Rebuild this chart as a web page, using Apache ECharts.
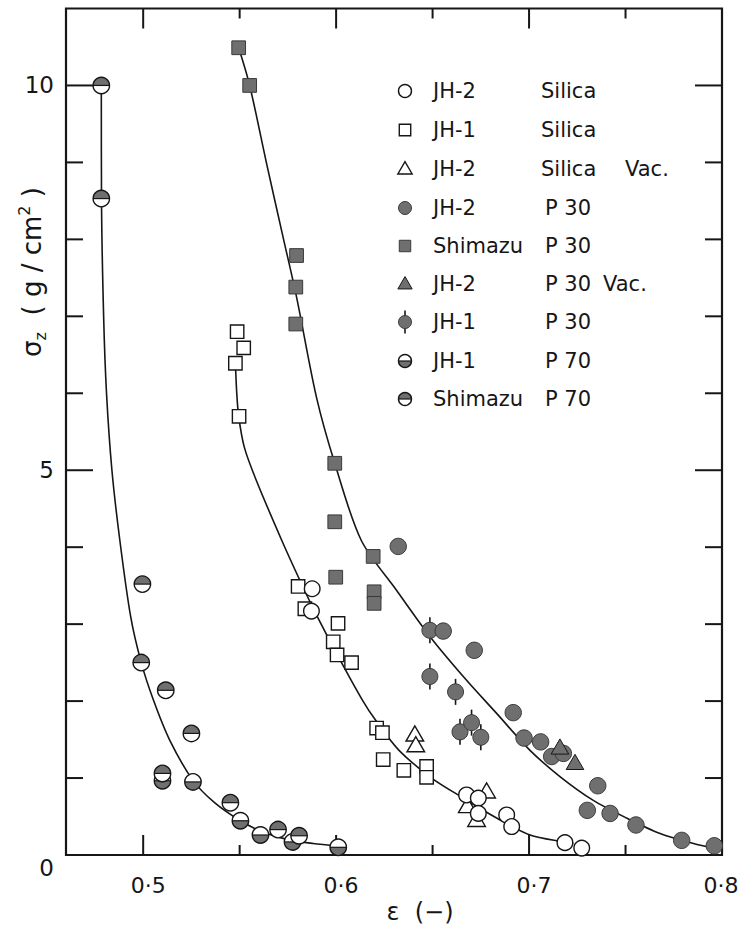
<!DOCTYPE html>
<html>
<head>
<meta charset="utf-8">
<script src="https://cdn.jsdelivr.net/npm/echarts/dist/echarts.min.js"></script>
<style>
  html, body { margin: 0; padding: 0; background: #ffffff; }
  #chart { width: 743px; height: 928px; }
</style>
</head>
<body>
<div id="chart"></div>
<script>
// Axis ranges and tick definitions
const xMin = 0.46, xMax = 0.8, yMin = 0, yMax = 11;
const xMajorTicks = [0.5, 0.6, 0.7, 0.8];
const xMinorTicks = [0.55, 0.65, 0.75];
const xTickLabels = ['0·5', '0·6', '0·7', '0·8'];
const yMajorTicks = [0, 5, 10];
const yMinorTicks = [1, 2, 3, 4, 6, 7, 8, 9];
const yTickLabels = ['0', '5', '10'];

// Measured points: [porosity ε, stress σz (g/cm²)]
const jh2Silica = [[0.5876,3.46],[0.5872,3.17],[0.6676,0.78],[0.6737,0.74],[0.6737,0.54],
  [0.6884,0.52],[0.691,0.37],[0.7186,0.16],[0.7273,0.09]];
const jh1Silica = [[0.5487,6.80],[0.5521,6.59],[0.5478,6.39],[0.5497,5.70],[0.5803,3.49],
  [0.5838,3.20],[0.601,3.01],[0.5985,2.77],[0.6005,2.60],[0.608,2.50],[0.621,1.65],
  [0.624,1.59],[0.6244,1.24],[0.6351,1.10],[0.6469,1.15],[0.6469,1.01]];
const jh2SilicaVac = [[0.6408,1.56],[0.6413,1.42],[0.678,0.82],[0.668,0.63],[0.6728,0.45]];
const jh2P30 = [[0.6322,4.01],[0.6555,2.91],[0.6716,2.66],[0.6918,1.85],[0.6974,1.52],
  [0.706,1.47],[0.7117,1.28],[0.7178,1.32],[0.7356,0.90],[0.7302,0.58],[0.742,0.54],
  [0.7554,0.39],[0.7791,0.19],[0.796,0.12]];
const shimazuP30 = [[0.5495,10.49],[0.5552,10.0],[0.5795,7.79],[0.5791,7.38],[0.5791,6.90],
  [0.5993,5.09],[0.5993,4.33],[0.5998,3.61],[0.6192,3.88],[0.6197,3.42],[0.6197,3.27]];
const jh2P30Vac = [[0.716,1.39],[0.7238,1.19]];
const jh1P30 = [[0.6486,2.92],[0.6486,2.32],[0.6619,2.12],[0.6642,1.60],[0.6702,1.72],[0.675,1.53]];
const jh1P70 = [[0.510,0.965],[0.5258,0.95],[0.5504,0.445],[0.5608,0.26],[0.5774,0.17],[0.6011,0.10]];
const shimazuP70 = [[0.4783,10.0],[0.4783,8.53],[0.4996,3.52],[0.499,2.50],[0.5117,2.14],
  [0.525,1.58],[0.510,1.06],[0.5452,0.68],[0.5699,0.33],[0.5808,0.25]];

// Fitted curves traced through each material group
const curveP70 = [[0.4783,10.0],[0.4784,8.53],[0.4795,7.0],[0.481,6.0],[0.4838,5.0],[0.4879,4.09],
  [0.4935,3.1],[0.499,2.5],[0.5055,2.0],[0.5138,1.49],[0.5258,0.97],[0.537,0.68],[0.5504,0.445],
  [0.562,0.3],[0.575,0.2],[0.588,0.15],[0.601,0.12]];
const curveSilica = [[0.5478,6.39],[0.5485,6.0],[0.5495,5.70],[0.5524,5.30],[0.5586,4.87],
  [0.5718,4.09],[0.5812,3.57],[0.5888,3.17],[0.6012,2.575],[0.6137,2.01],[0.6205,1.75],
  [0.6326,1.36],[0.6495,1.0],[0.6659,0.74],[0.6832,0.48],[0.7005,0.26],[0.7178,0.17],[0.723,0.15]];
const curveP30 = [[0.5495,10.49],[0.5552,10.0],[0.564,8.98],[0.5725,8.03],[0.5795,7.25],
  [0.5898,5.95],[0.5993,5.09],[0.613,4.09],[0.6313,3.44],[0.6486,2.84],[0.6659,2.32],
  [0.6832,1.84],[0.7005,1.36],[0.716,1.02],[0.7333,0.71],[0.7506,0.48],[0.7679,0.28],
  [0.7852,0.15],[0.799,0.07]];

const INK = '#161616';
const GREY = '#6f6f6f';
const FONT = '"DejaVu Sans", "Noto Sans", sans-serif';

// Half-disc outline as polygon points, from angle a0 through a half turn
function halfDisc(x, y, r, a0) {
  const pts = [];
  for (let i = 0; i <= 24; i++) {
    const a = a0 + Math.PI * i / 24;
    pts.push([x + r * Math.cos(a), y + r * Math.sin(a)]);
  }
  return pts;
}

// Builds the graphic parts of one marker centred on (x, y)
function markerParts(kind, x, y, r) {
  const edge = { stroke: INK, lineWidth: 1.4 };
  const s = r * 0.88;
  switch (kind) {
    case 'circleOpen':
      return [{ type: 'circle', shape: { cx: x, cy: y, r }, style: { fill: '#fff', ...edge } }];
    case 'squareOpen':
      return [{ type: 'rect', shape: { x: x - s, y: y - s, width: 2 * s, height: 2 * s }, style: { fill: '#fff', ...edge } }];
    case 'triOpen':
    case 'triFill': {
      const w = r * 2.2, h = r * 1.9;
      return [{ type: 'polygon', shape: { points: [[x, y - h * 0.6], [x - w / 2, y + h * 0.4], [x + w / 2, y + h * 0.4]] },
        style: { fill: kind === 'triOpen' ? '#fff' : GREY, stroke: INK, lineWidth: kind === 'triOpen' ? 1.4 : 1 } }];
    }
    case 'circleFill':
      return [{ type: 'circle', shape: { cx: x, cy: y, r }, style: { fill: GREY, stroke: '#3a3a3a', lineWidth: 1 } }];
    case 'squareFill':
      return [{ type: 'rect', shape: { x: x - s, y: y - s, width: 2 * s, height: 2 * s }, style: { fill: GREY, stroke: '#3a3a3a', lineWidth: 1 } }];
    case 'circleBar':
      return [
        { type: 'line', shape: { x1: x, y1: y - r - 5, x2: x, y2: y + r + 5 }, style: { stroke: INK, lineWidth: 1.6 } },
        { type: 'circle', shape: { cx: x, cy: y, r }, style: { fill: GREY, stroke: '#3a3a3a', lineWidth: 1 } }
      ];
    case 'halfBottom':
    case 'halfTop': {
      // lower half: angles 0..π (screen y grows downward); upper half: π..2π
      const a0 = kind === 'halfBottom' ? 0 : Math.PI;
      return [
        { type: 'circle', shape: { cx: x, cy: y, r }, style: { fill: '#fff' } },
        { type: 'polygon', shape: { points: halfDisc(x, y, r, a0) }, style: { fill: GREY } },
        { type: 'line', shape: { x1: x - r, y1: y, x2: x + r, y2: y }, style: { stroke: INK, lineWidth: 1.2 } },
        { type: 'circle', shape: { cx: x, cy: y, r }, style: { fill: 'none', ...edge } }
      ];
    }
  }
  return [];
}

function pointSeries(name, data, kind, r) {
  return {
    type: 'custom', name, data, z: 5, clip: false,
    renderItem(params, api) {
      const p = api.coord([api.value(0), api.value(1)]);
      return { type: 'group', children: markerParts(kind, p[0], p[1], r) };
    }
  };
}

function curveSeries(data) {
  return {
    type: 'line', data, showSymbol: false, smooth: 0.3, z: 3, silent: true,
    lineStyle: { color: INK, width: 1.6 }
  };
}

// Tick marks drawn inward on all four sides of the frame
function xTickSeries(values, len) {
  return {
    type: 'custom', silent: true, z: 2, clip: false,
    data: values.map(v => [v, yMin]),
    renderItem(params, api) {
      const v = api.value(0);
      const b = api.coord([v, yMin]), t = api.coord([v, yMax]);
      const st = { stroke: INK, lineWidth: 2 };
      return { type: 'group', children: [
        { type: 'line', shape: { x1: b[0], y1: b[1], x2: b[0], y2: b[1] - len }, style: st },
        { type: 'line', shape: { x1: t[0], y1: t[1], x2: t[0], y2: t[1] + len }, style: st }
      ] };
    }
  };
}
function yTickSeries(values, len) {
  return {
    type: 'custom', silent: true, z: 2, clip: false,
    data: values.map(v => [xMin, v]),
    renderItem(params, api) {
      const v = api.value(1);
      const l = api.coord([xMin, v]), rt = api.coord([xMax, v]);
      const st = { stroke: INK, lineWidth: 2 };
      return { type: 'group', children: [
        { type: 'line', shape: { x1: l[0], y1: l[1], x2: l[0] + len, y2: l[1] }, style: st },
        { type: 'line', shape: { x1: rt[0], y1: rt[1], x2: rt[0] - len, y2: rt[1] }, style: st }
      ] };
    }
  };
}
function xLabelSeries() {
  return {
    type: 'custom', silent: true, z: 2, clip: false,
    data: xMajorTicks.map(v => [v, yMin]),
    renderItem(params, api) {
      const p = api.coord([api.value(0), yMin]);
      const last = params.dataIndex === xMajorTicks.length - 1;
      return { type: 'text', x: last ? p[0] - 1 : p[0] + 5, y: p[1] + 30,
        style: { text: xTickLabels[params.dataIndex], font: '22px ' + FONT, fill: INK, align: 'center', verticalAlign: 'middle' } };
    }
  };
}
function yLabelSeries() {
  return {
    type: 'custom', silent: true, z: 2, clip: false,
    data: yMajorTicks.map(v => [xMin, v]),
    renderItem(params, api) {
      const v = api.value(1);
      const p = api.coord([xMin, v]);
      return { type: 'text', x: p[0] - 12, y: p[1] + (v === 0 ? 13 : 0),
        style: { text: yTickLabels[params.dataIndex], font: '23px ' + FONT, fill: INK, align: 'right', verticalAlign: 'middle' } };
    }
  };
}

// Legend entries: marker kind, name column, material column, extra note
const legendRows = [
  ['circleOpen', 'JH-2', 'Silica', ''],
  ['squareOpen', 'JH-1', 'Silica', ''],
  ['triOpen', 'JH-2', 'Silica', 'Vac.'],
  ['circleFill', 'JH-2', 'P 30', ''],
  ['squareFill', 'Shimazu', 'P 30', ''],
  ['triFill', 'JH-2', 'P 30', 'Vac.'],
  ['circleBar', 'JH-1', 'P 30', ''],
  ['halfBottom', 'JH-1', 'P 70', ''],
  ['halfTop', 'Shimazu', 'P 70', '']
];
const legendY = [91, 130, 169, 208, 246, 284, 322, 361, 399];
const legendGraphics = [];
legendRows.forEach((row, i) => {
  const y = legendY[i];
  markerParts(row[0], 405, y, 6.5).forEach(el => legendGraphics.push(el));
  const ts = { font: '21px ' + FONT, fill: INK, verticalAlign: 'middle', align: 'left' };
  legendGraphics.push({ type: 'text', x: 433, y, style: { ...ts, text: row[1] } });
  legendGraphics.push({ type: 'text', x: i < 3 ? 541 : 545, y, style: { ...ts, text: row[2] } });
  if (row[3]) legendGraphics.push({ type: 'text', x: i === 2 ? 625 : 603, y, style: { ...ts, text: row[3] } });
});

// Axis titles
legendGraphics.push({
  type: 'text', x: 420, y: 912,
  style: { text: 'ε  (−)', font: '24px ' + FONT, fill: INK, align: 'center', verticalAlign: 'middle' }
});
legendGraphics.push({
  type: 'text', x: 32, y: 272, rotation: Math.PI / 2,
  style: {
    text: '{m|σ}{sub|z}{m|  ( g / cm}{sup|2}{m| )}',
    align: 'center', verticalAlign: 'middle', fill: INK,
    rich: {
      m: { font: '26px ' + FONT, fill: INK, lineHeight: 32, verticalAlign: 'middle' },
      sub: { font: '16px ' + FONT, fill: INK, lineHeight: 32, verticalAlign: 'bottom' },
      sup: { font: '16px ' + FONT, fill: INK, lineHeight: 32, verticalAlign: 'top' }
    }
  }
});

const chart = echarts.init(document.getElementById('chart'), null, { renderer: 'svg' });
chart.setOption({
  animation: false,
  backgroundColor: '#ffffff',
  grid: { left: 66, right: 21, top: 8.5, bottom: 73, show: true, borderColor: INK, borderWidth: 2.2, backgroundColor: 'transparent' },
  xAxis: { type: 'value', min: xMin, max: xMax, axisLine: { show: false }, axisTick: { show: false }, axisLabel: { show: false }, splitLine: { show: false } },
  yAxis: { type: 'value', min: yMin, max: yMax, axisLine: { show: false }, axisTick: { show: false }, axisLabel: { show: false }, splitLine: { show: false } },
  graphic: legendGraphics,
  series: [
    xTickSeries(xMajorTicks, 20),
    xTickSeries(xMinorTicks, 10),
    yTickSeries(yMajorTicks, 27),
    yTickSeries(yMinorTicks, 17),
    xLabelSeries(),
    yLabelSeries(),
    curveSeries(curveP70),
    curveSeries(curveSilica),
    curveSeries(curveP30),
    pointSeries('JH-2 Silica Vac.', jh2SilicaVac, 'triOpen', 8),
    pointSeries('JH-1 Silica', jh1Silica, 'squareOpen', 7.6),
    pointSeries('JH-2 Silica', jh2Silica, 'circleOpen', 7.8),
    pointSeries('Shimazu P30', shimazuP30, 'squareFill', 7.8),
    pointSeries('JH-1 P30', jh1P30, 'circleBar', 8),
    pointSeries('JH-2 P30', jh2P30, 'circleFill', 8.2),
    pointSeries('JH-2 P30 Vac.', jh2P30Vac, 'triFill', 8),
    pointSeries('JH-1 P70', jh1P70, 'halfBottom', 8.2),
    pointSeries('Shimazu P70', shimazuP70, 'halfTop', 8.2)
  ]
});
</script>
</body>
</html>
